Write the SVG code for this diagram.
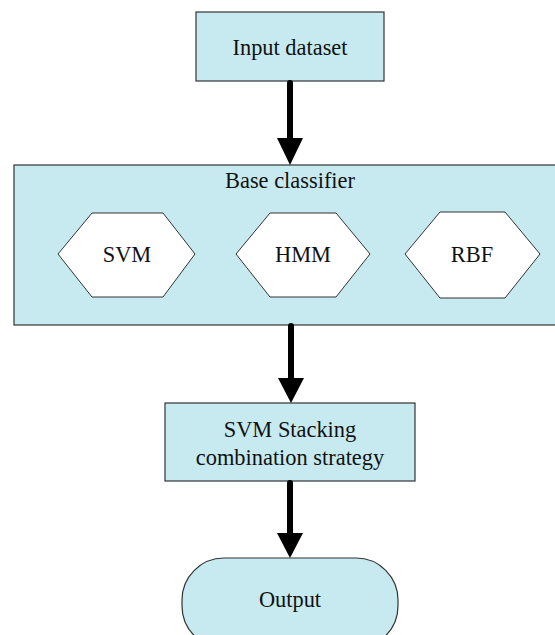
<svg xmlns="http://www.w3.org/2000/svg" width="555" height="635" viewBox="0 0 555 635">
<style>
.box{fill:#C6EAF0;stroke:#333;stroke-width:1.2}
.hex{fill:#fff;stroke:#333;stroke-width:1}
.t{font-family:"Liberation Serif",serif;font-size:22.4px;fill:#111;text-anchor:middle;dominant-baseline:central}
.c{stroke:#000;stroke-width:6;stroke-linecap:round;fill:none}
.h{fill:#000}
</style>
<rect width="555" height="635" fill="#fff"/>
<g id="input">
<rect class="box" x="196" y="12" width="188" height="69"/>
<text class="t" x="290" y="47">Input dataset</text>
</g>
<g id="base">
<rect class="box" x="14" y="165" width="545" height="160"/>
<text class="t" x="290" y="180">Base classifier</text>
</g>
<g id="svm">
<polygon class="hex" points="58,254 92,213 163,213 195,254 163,297 92,297"/>
<text class="t" x="127" y="254">SVM</text>
</g>
<g id="hmm">
<polygon class="hex" points="236,254 270,213 336,213 370,254 336,297 270,297"/>
<text class="t" x="303" y="254">HMM</text>
</g>
<g id="rbf">
<polygon class="hex" points="405,254 440,212 505,212 540,254 505,298 440,298"/>
<text class="t" x="472" y="254">RBF</text>
</g>
<g id="stacking">
<rect class="box" x="165" y="403" width="250" height="78"/>
<text class="t" x="290" y="429">SVM Stacking</text>
<text class="t" x="290" y="457">combination strategy</text>
</g>
<g id="output">
<rect class="box" x="182" y="558" width="216" height="90" rx="42" ry="42"/>
<text class="t" x="290" y="599">Output</text>
</g>
<g id="connectors">
<line class="c" x1="290" y1="83" x2="290" y2="140"/>
<polygon class="h" points="277,138 303,138 290,165"/>
<line class="c" x1="291" y1="326" x2="291" y2="380"/>
<polygon class="h" points="278,378 304,378 291,403"/>
<line class="c" x1="290" y1="483" x2="290" y2="536"/>
<polygon class="h" points="277,533 303,533 290,558"/>
</g>
</svg>
